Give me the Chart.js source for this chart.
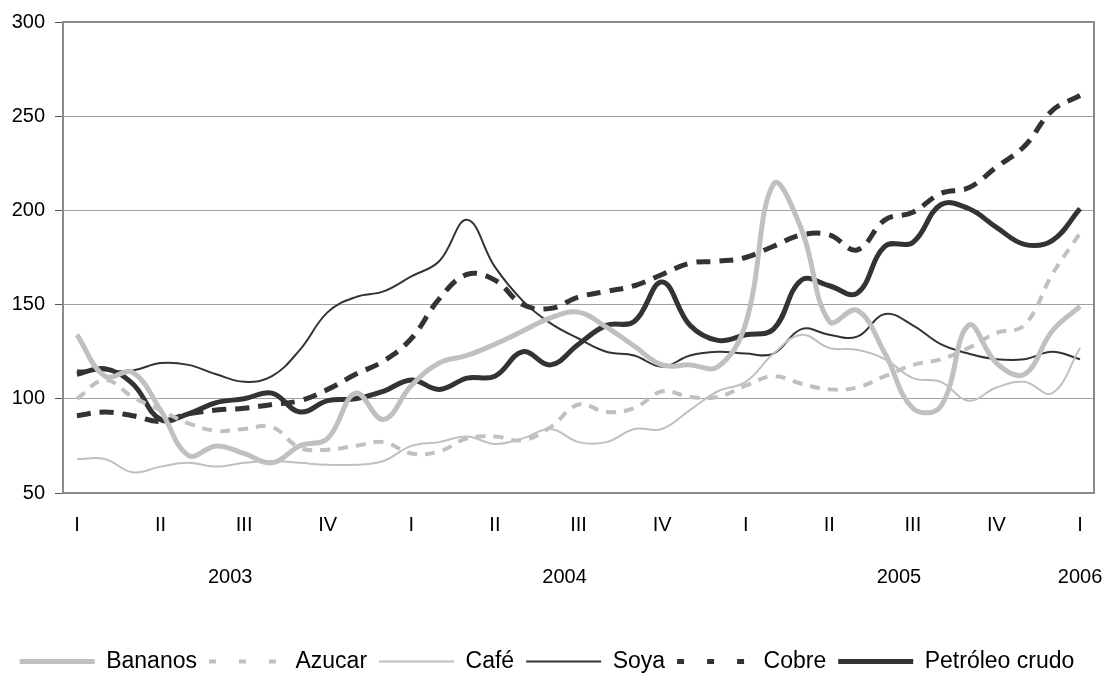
<!DOCTYPE html>
<html>
<head>
<meta charset="utf-8">
<script src="https://cdn.jsdelivr.net/npm/chart.js@4.4.1/dist/chart.umd.min.js"></script>
<style>
  html, body { margin: 0; padding: 0; background: #fff; }
  #wrap { width: 1110px; height: 686px; }
</style>
</head>
<body>
<div id="wrap"><canvas id="chart"></canvas></div>
<script>
// Monthly index, Jan 2003 .. Jan 2006 (37 points).
const quarterNames = ['I', 'II', 'III', 'IV'];
const years = ['2003', '2004', '2005', '2006'];
const monthsPerYear = [12, 12, 12, 1];
const yTicks = [50, 100, 150, 200, 250, 300];

const bananos = [134, 112, 114, 94, 70, 75, 71, 66, 75, 79, 103, 89, 107, 119, 123, 129, 136, 143, 146, 138, 128, 118, 118, 117, 140, 214, 190, 141, 147, 124, 95, 96, 139, 119, 113, 136, 149];
const azucar = [100, 110, 101, 94, 87, 83, 84, 85, 74, 73, 75, 77, 71, 72, 79, 80, 78, 85, 97, 93, 95, 104, 101, 101, 107, 112, 108, 105, 106, 112, 118, 121, 127, 135, 139, 166, 188];
const cafe = [68, 68, 61, 64, 66, 64, 66, 67, 66, 65, 65, 67, 75, 77, 80, 76, 79, 84, 77, 77, 84, 84, 94, 104, 109, 124, 134, 127, 126, 121, 111, 109, 99, 106, 109, 103, 127];
const soya = [115, 115, 115, 119, 118, 113, 109, 112, 126, 146, 154, 157, 165, 173, 195, 170, 152, 140, 132, 125, 123, 117, 123, 125, 124, 124, 137, 134, 133, 145, 139, 129, 124, 121, 121, 125, 121];
const cobre = [91, 93, 91, 88, 92, 94, 95, 97, 99, 105, 113, 120, 132, 153, 166, 163, 150, 148, 154, 157, 160, 166, 172, 173, 175, 181, 187, 187, 179, 195, 199, 209, 212, 223, 234, 253, 261];
const petroleo = [113, 116, 108, 89, 92, 98, 100, 103, 93, 99, 100, 104, 110, 105, 111, 112, 125, 118, 129, 139, 141, 162, 139, 131, 134, 137, 163, 160, 156, 181, 183, 203, 201, 191, 182, 184, 201];

const LIGHT = '#c0c0c0';
const DARK = '#333333';
const FONT = "'Liberation Sans', Arial, sans-serif";
const legendDash = [7, 23];

const nMonths = bananos.length;
const pts = arr => arr.map((v, i) => ({ x: i, y: v }));

// year label sits in the middle of that year's months
const yearCentres = [];
let start = 0;
monthsPerYear.forEach(n => { yearCentres.push(start + (n - 1) / 2); start += n; });

const frame = {
  id: 'frame',
  beforeDatasetsDraw(chart) {
    const { ctx, chartArea: a } = chart;
    ctx.save();
    ctx.strokeStyle = '#8a8a8a';
    ctx.lineWidth = 2;
    ctx.strokeRect(a.left, a.top, a.right - a.left, a.bottom - a.top);
    ctx.restore();
  }
};

function line(label, data, color, width, dash) {
  return {
    label, data: pts(data),
    borderColor: color, backgroundColor: color,
    borderWidth: width, borderDash: dash || [],
    pointRadius: 0, pointHoverRadius: 0, fill: false, tension: 0.4,
  };
}

// no extra edge padding for the bottom axes, the plot keeps its own width
const noEdgePad = s => { s.paddingLeft = 0; s.paddingRight = 0; };

new Chart(document.getElementById('chart'), {
  type: 'line',
  data: {
    datasets: [
      line('Bananos', bananos, LIGHT, 5),
      line('Azucar', azucar, LIGHT, 4, [10, 8]),
      line('Café', cafe, LIGHT, 2),
      line('Soya', soya, DARK, 2),
      line('Cobre', cobre, DARK, 5, [14, 9]),
      line('Petróleo crudo', petroleo, DARK, 5),
    ],
  },
  options: {
    responsive: true,
    maintainAspectRatio: false,
    animation: false,
    layout: { padding: { top: 21, right: 16, left: 0, bottom: 3 } },
    plugins: {
      tooltip: { enabled: false },
      legend: {
        position: 'bottom',
        labels: {
          usePointStyle: true, pointStyle: 'line', pointStyleWidth: 75,
          color: '#000', padding: 12, font: { family: FONT, size: 23 },
          generateLabels: chart => Chart.defaults.plugins.legend.labels.generateLabels(chart).map(item => {
            const ds = chart.data.datasets[item.datasetIndex];
            item.lineWidth = ds.borderWidth;
            item.strokeStyle = ds.borderColor;
            item.lineDash = ds.borderDash.length ? legendDash : [];
            return item;
          }),
        },
      },
    },
    scales: {
      y: {
        min: 50, max: 300,
        afterFit: s => { s.width = 63; },
        afterBuildTicks: s => { s.ticks = yTicks.map(v => ({ value: v })); },
        grid: { color: '#a0a0a0', tickColor: '#555', tickLength: 8 },
        border: { display: true, color: '#555', width: 2 },
        ticks: { color: '#000', padding: 10, font: { family: FONT, size: 20 } },
      },
      x: {
        type: 'linear', position: 'bottom', weight: 0,
        min: -0.5, max: nMonths - 0.5,
        afterFit: s => { s.height = 55; noEdgePad(s); },
        afterBuildTicks: s => {
          const t = [];
          for (let i = 0; i < nMonths; i += 3) t.push({ value: i });
          s.ticks = t;
        },
        grid: { display: false, drawTicks: false },
        border: { display: false },
        ticks: {
          autoSkip: false, maxRotation: 0, color: '#000', padding: 20,
          font: { family: FONT, size: 20 },
          callback: v => quarterNames[(v / 3) % 4],
        },
      },
      x2: {
        type: 'linear', position: 'bottom', weight: 1,
        min: -0.5, max: nMonths - 0.5,
        afterFit: s => { s.height = 90; noEdgePad(s); },
        afterBuildTicks: s => { s.ticks = yearCentres.map(v => ({ value: v })); },
        grid: { display: false, drawTicks: false },
        border: { display: false },
        ticks: {
          autoSkip: false, maxRotation: 0, color: '#000', padding: 17,
          font: { family: FONT, size: 20 },
          callback: v => years[yearCentres.indexOf(v)],
        },
      },
    },
  },
  plugins: [frame],
});
</script>
</body>
</html>
